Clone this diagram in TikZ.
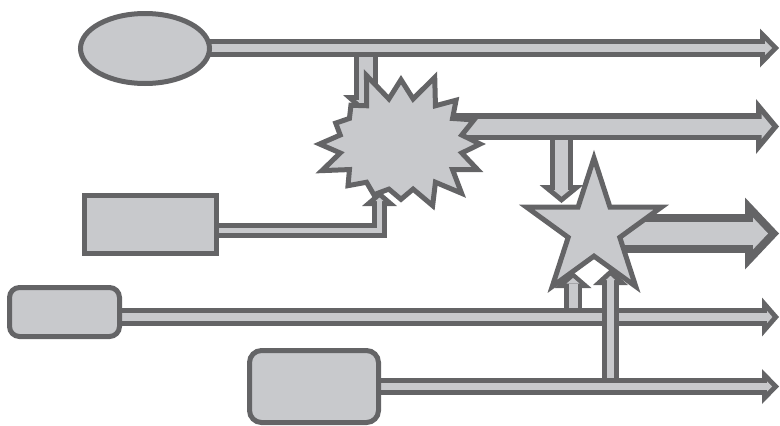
\documentclass[tikz,border=0pt]{standalone}
\usetikzlibrary{arrows.meta,shapes.geometric,shapes.symbols,backgrounds}
\definecolor{pipeline}{RGB}{100,100,102}
\definecolor{pipefill}{RGB}{200,201,204}

\begin{document}
\begin{tikzpicture}[x=1pt,y=-1pt,
  blob/.style={draw=pipeline,fill=pipefill,line width=5pt,inner sep=0pt},
  % outer width, head length, head width, rim
  pipe/.style n args={4}{
    /utils/exec={\pgfmathsetmacro\pipeIn{#1-2*#4}%
      \pgfmathsetmacro\pipeBack{#4*veclen(#3/2,#2)/(#3/2)}%
      \pgfmathsetmacro\pipeHeadL{#2-\pipeBack-#4}%
      \pgfmathsetmacro\pipeHeadW{#3*\pipeHeadL/#2}},
    draw=pipefill,line width=\pipeIn pt,shorten >=\pipeBack pt,
    -{Triangle[length=\pipeHeadL pt,width=\pipeHeadW pt,line width=0pt]},
    preaction={draw=pipeline,line width=#1pt,shorten >=0pt,
      -{Triangle[length=#2pt,width=#3pt,line width=0pt]}}}]
  \useasboundingbox (0,0) rectangle (780,426);
  \node[blob,ellipse,minimum width=129pt,minimum height=70pt] (src) at (145,48.5) {};
  \node[blob,minimum width=132pt,minimum height=58pt] (box) at (150.5,224.5) {};
  \node[blob,rounded corners=10pt,minimum width=110pt,minimum height=49pt] (left) at (64.5,312) {};
  \node[blob,rounded corners=12pt,minimum width=129pt,minimum height=72pt] (low) at (314,386.5) {};
  \node[blob,starburst,starburst points=16,random starburst=5,starburst point height=30pt,
    minimum width=184pt,minimum height=152pt] (burst) at (401,144) {};
  \node[blob,star,star points=5,star point ratio=2.618,minimum size=142pt] (star) at (594,229) {};

  \coordinate (e1) at (779,48);
  \coordinate (e2) at (779,126.5);
  \coordinate (e3) at (779,233.5);
  \coordinate (e4) at (779,317);
  \coordinate (e5) at (779,386.5);
  \coordinate (d1) at (365.5,57);
  \coordinate (t1) at (365.5,115);
  \coordinate (d2) at (561.5,140);
  \coordinate (t2) at (561.5,203);
  \coordinate (k3) at (379.5,230.5);
  \coordinate (t3) at (379.5,191);
  \coordinate (d4) at (573,308);
  \coordinate (t4) at (573,272);
  \coordinate (d5) at (610.5,378);
  \coordinate (t5) at (610.5,269);

  \begin{scope}[on background layer]
    \draw[pipe={18}{19}{39}{5}] (src.center |- e1) -- (e1);
    \draw[pipe={27}{23}{55}{5.5}] (burst.center |- e2) -- (e2);
    \draw[pipe={39}{34}{72}{8}] (star.center |- e3) -- (e3);
    \draw[pipe={18}{17}{39}{5}] (left.center |- e4) -- (e4);
    \draw[pipe={17}{17}{35}{5}] (low.center |- e5) -- (e5);
    \draw[pipe={24}{20}{45}{5}] (d1) -- (t1);
    \draw[pipe={23}{18}{44}{5}] (d2) -- (t2);
    \draw[pipe={15}{15}{35}{5}] (box.center |- k3) -- (k3) -- (t3);
    \draw[pipe={18}{16}{37}{4.5}] (d4) -- (t4);
    \draw[pipe={17}{16}{35}{5}] (d5) -- (t5);
  \end{scope}
\end{tikzpicture}
\end{document}
